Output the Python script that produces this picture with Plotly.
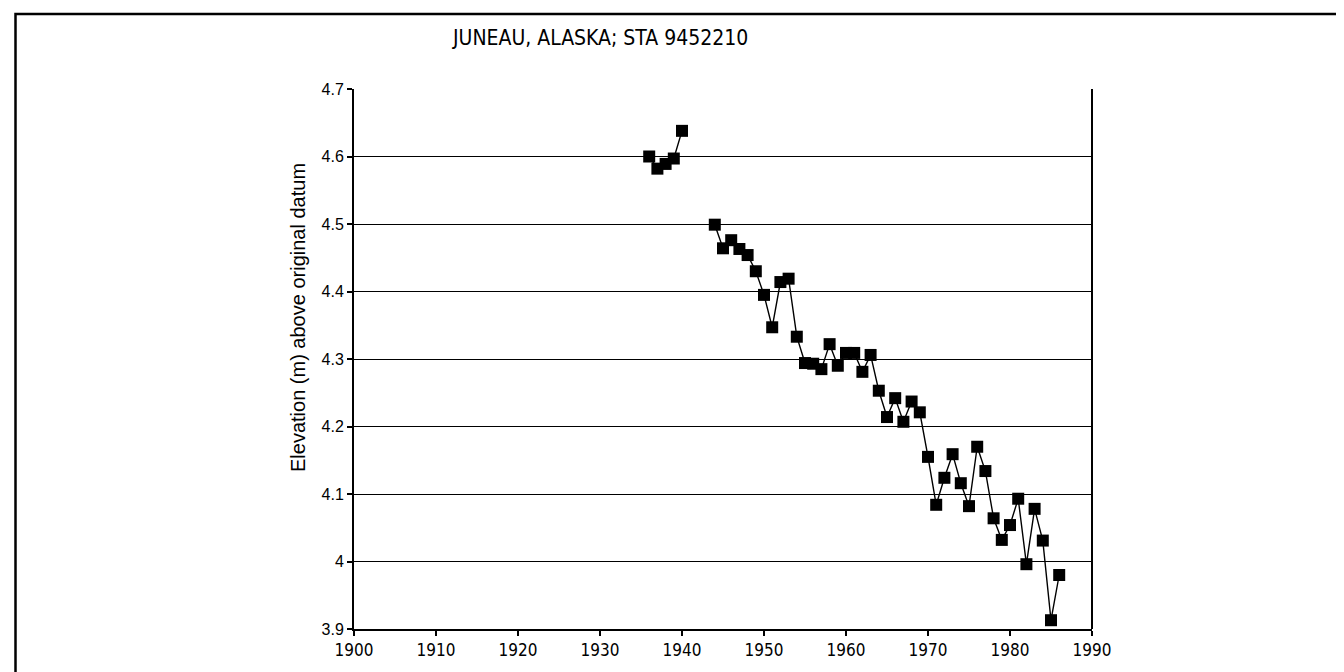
import plotly.graph_objects as go

# ---- data ----
years = [1936, 1937, 1938, 1939, 1940, 1941, 1942, 1943,
         1944, 1945, 1946, 1947, 1948, 1949, 1950, 1951, 1952, 1953, 1954, 1955,
         1956, 1957, 1958, 1959, 1960, 1961, 1962, 1963, 1964, 1965, 1966, 1967,
         1968, 1969, 1970, 1971, 1972, 1973, 1974, 1975, 1976, 1977, 1978, 1979,
         1980, 1981, 1982, 1983, 1984, 1985, 1986]
elevation = [4.600, 4.582, 4.589, 4.597, 4.638, None, None, None,
             4.499, 4.464, 4.476, 4.463, 4.454, 4.430, 4.395, 4.347, 4.414, 4.419, 4.333, 4.294,
             4.293, 4.285, 4.322, 4.290, 4.309, 4.309, 4.281, 4.306, 4.253, 4.214, 4.242, 4.207,
             4.237, 4.221, 4.155, 4.084, 4.124, 4.159, 4.116, 4.082, 4.170, 4.134, 4.064, 4.032,
             4.054, 4.093, 3.996, 4.078, 4.031, 3.913, 3.980]

y_tick_vals = [3.9, 4.0, 4.1, 4.2, 4.3, 4.4, 4.5, 4.6, 4.7]
y_tick_text = ["3.9", "4", "4.1", "4.2", "4.3", "4.4", "4.5", "4.6", "4.7"]
x_tick_vals = [1900, 1910, 1920, 1930, 1940, 1950, 1960, 1970, 1980, 1990]

title_text = "JUNEAU, ALASKA; STA 9452210"
y_title = "Elevation (m) above original datum"

# ---- layout geometry (pixels) ----
W, H = 1344, 672
L, R, T, B = 346, 1084, 81, 621
pw, ph = R - L, B - T

def px_x(p):
    return (p - L) / pw

def px_y(p):
    return (B - p) / ph

fig = go.Figure()
fig.add_trace(go.Scatter(
    x=years, y=elevation, mode="lines+markers",
    connectgaps=False,
    line=dict(color="black", width=1.4),
    marker=dict(symbol="square", size=12, color="black"),
    showlegend=False,
))

font_main = "Liberation Sans, Arial, Helvetica, sans-serif"
font_narrow = "Liberation Sans Narrow, Arial Narrow, DejaVu Sans Condensed, Liberation Sans, sans-serif"

fig.update_layout(
    width=W, height=H,
    margin=dict(l=L, r=W - R, t=T, b=H - B),
    paper_bgcolor="white", plot_bgcolor="white",
    font=dict(family=font_main, color="black", size=15),
    xaxis=dict(range=[1900, 1990], tickvals=x_tick_vals, ticks="outside", ticklen=5,
               tickwidth=1.5, tickcolor="black", showgrid=False, zeroline=False,
               showline=True, linecolor="black", linewidth=2, mirror=False,
               tickfont=dict(family=font_narrow, size=17)),
    yaxis=dict(range=[3.9, 4.7], tickvals=y_tick_vals, ticktext=y_tick_text,
               ticks="outside", ticklen=5, tickwidth=1.5, tickcolor="black",
               showgrid=True, gridcolor="black", gridwidth=1.2, zeroline=False,
               showline=True, linecolor="black", linewidth=2, mirror=False,
               tickfont=dict(family=font_main, size=16)),
)

# title
fig.add_annotation(text=title_text, xref="paper", yref="paper",
                   x=px_x(592), y=px_y(30), xanchor="center", yanchor="middle",
                   showarrow=False, font=dict(family=font_narrow, size=21, color="black"))
# y-axis title
fig.add_annotation(text=y_title, xref="paper", yref="paper", textangle=-90,
                   x=px_x(290), y=px_y(310), xanchor="center", yanchor="middle",
                   showarrow=False, font=dict(family=font_main, size=20, color="black"))

# right axis line
fig.add_shape(type="line", xref="paper", yref="paper", x0=1, x1=1, y0=0, y1=1,
              line=dict(color="black", width=2))
# page border
fig.add_shape(type="rect", xref="paper", yref="paper",
              x0=px_x(7.5), x1=px_x(1341), y0=px_y(690), y1=px_y(6),
              line=dict(color="black", width=2.5), fillcolor="rgba(0,0,0,0)")

fig.write_html("out.html")
